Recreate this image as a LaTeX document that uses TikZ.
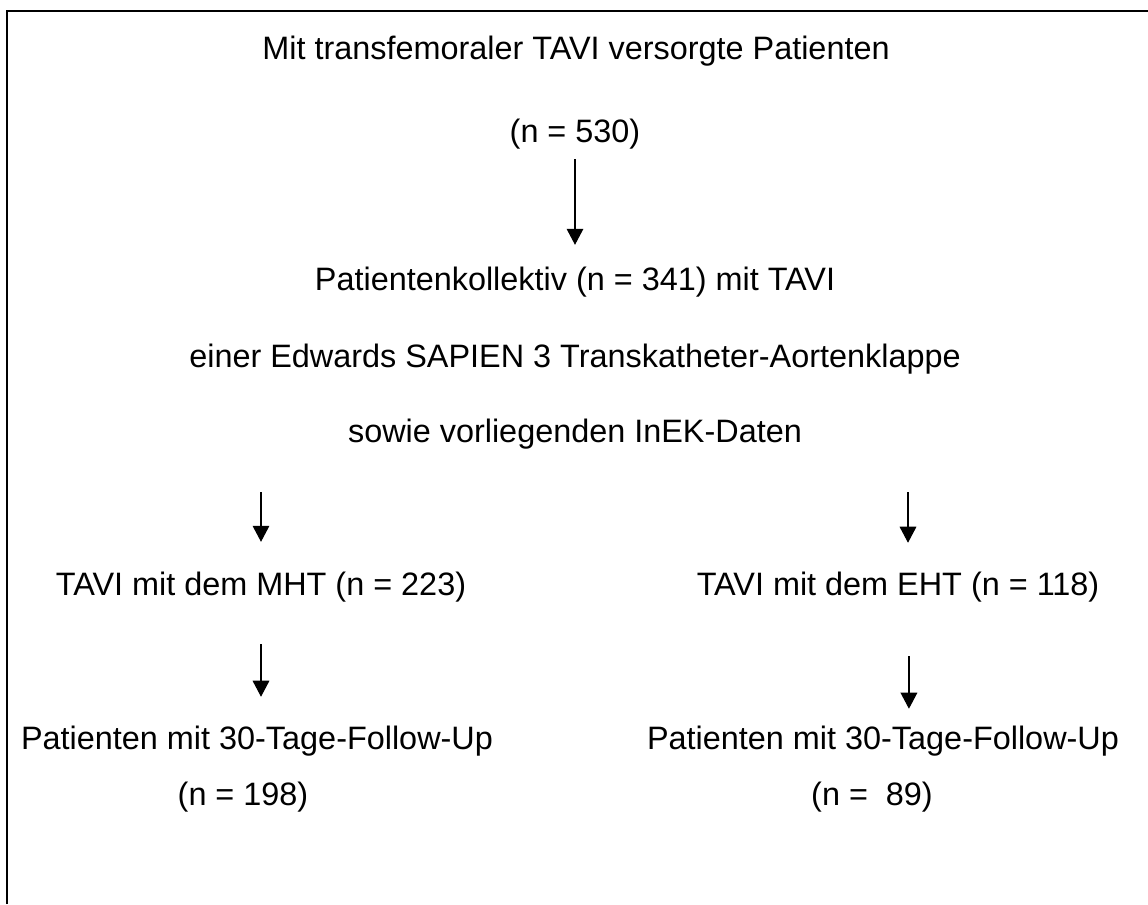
\documentclass[tikz,border=0pt]{standalone}
\usepackage{fontspec}
\setmainfont{Liberation Sans}
\usetikzlibrary{arrows.meta, positioning}

\begin{document}
\begin{tikzpicture}[
  x=0.75pt, y=-0.75pt,
  txt/.style={inner sep=0pt, anchor=base, font=\fontsize{24.3pt}{29pt}\selectfont, text height=17.6pt, text depth=5.2pt},
  pfeil/.style={-{Triangle[width=12.5pt, length=12pt]}, line width=0.85pt}
]
\useasboundingbox (0,0) rectangle (1148,904);

% Rahmen (nur oben und links sichtbar)
\draw[line width=2.2pt] (7,904) -- (7,11) -- (1148,11);

\node[txt] (alle) at (576,59) {Mit transfemoraler TAVI versorgte Patienten};
\node[txt] (n530) at (575,142) {(n = 530)};
\node[txt] (kollektiv) at (575,290) {Patientenkollektiv (n = 341) mit TAVI};
\node[txt] (klappe) at (575,367) {einer Edwards SAPIEN 3 Transkatheter-Aortenklappe};
\node[txt] (daten) at (575,442) {sowie vorliegenden InEK-Daten};
\node[txt] (mht) at (261,595) {TAVI mit dem MHT (n = 223)};
\node[txt] (eht) at (898,595) {TAVI mit dem EHT (n = 118)};
\node[txt] (ful) at (257,749) {Patienten mit 30-Tage-Follow-Up};
\node[txt] (fur) at (883,749) {Patienten mit 30-Tage-Follow-Up};
\node[txt] (n198) at (243,805) {(n = 198)};
\node[txt] (n89) at (872,805) {(n =\ \ 89)};

\draw[pfeil, shorten <=7.6pt, shorten >=16.1pt] (n530.south) -- (n530.south |- kollektiv.north);
\draw[pfeil, shorten <=32.3pt, shorten >=22.1pt] (daten.south -| mht.north) -- (mht.north);
\draw[pfeil, shorten <=32.3pt, shorten >=21.4pt] ([xshift=7.5pt]daten.south -| eht.north) -- ([xshift=7.5pt]eht.north);
\draw[pfeil, shorten <=31.6pt, shorten >=21.4pt] (mht.south) -- (mht.south |- ful.north);
\draw[pfeil, shorten <=40.6pt, shorten >=12.4pt] ([xshift=8.2pt]eht.south) -- ([xshift=8.2pt]eht.south |- fur.north);

\end{tikzpicture}
\end{document}
